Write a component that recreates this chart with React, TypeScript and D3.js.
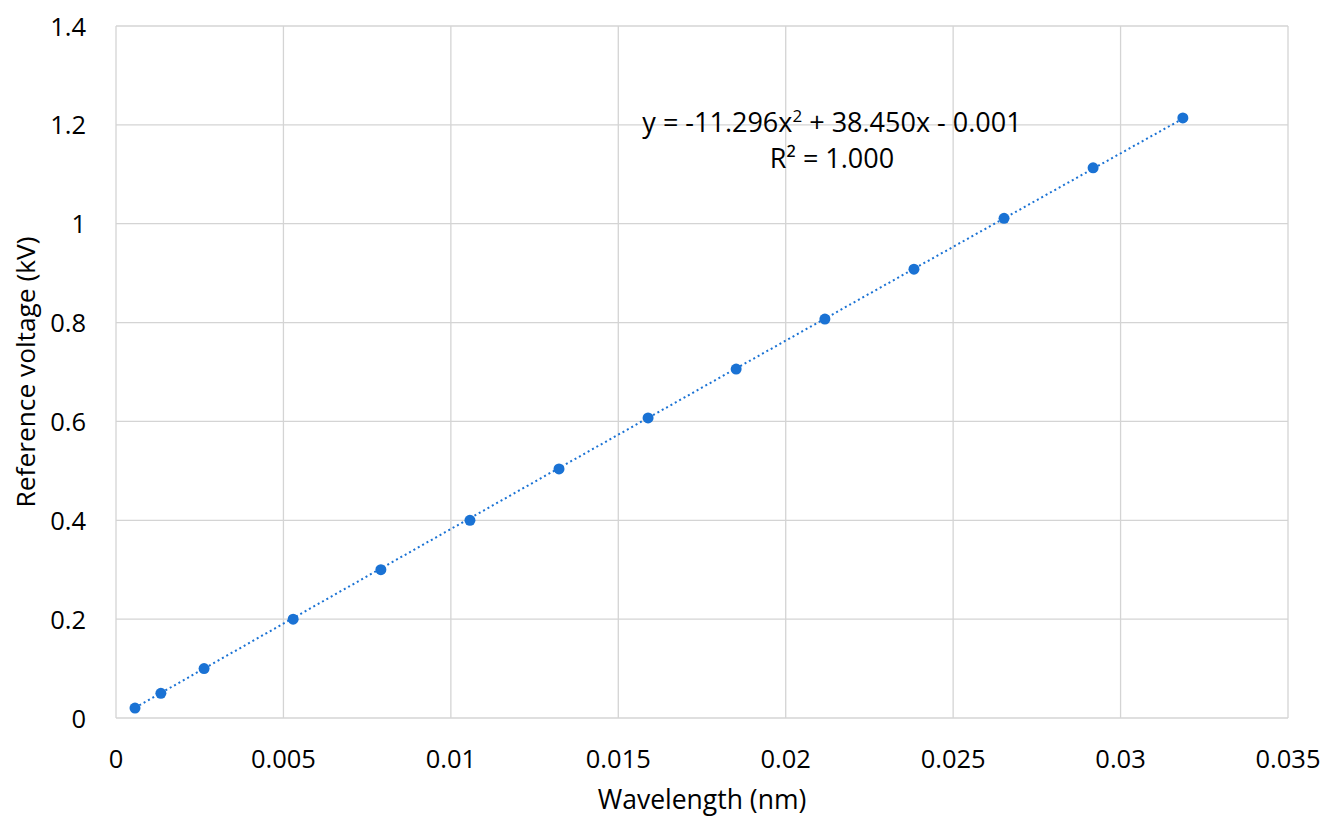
import React from "react";
import * as d3 from "d3";

// measured points (wavelength nm, voltage kV)
const wavelength = [
  0.000567, 0.00134, 0.00263, 0.00529, 0.00791, 0.01057, 0.01323, 0.01589,
  0.01852, 0.02117, 0.02383, 0.02652, 0.02918, 0.03186,
];
const voltage = [
  0.02, 0.05, 0.1, 0.2, 0.3, 0.4, 0.504, 0.607, 0.706, 0.807, 0.908, 1.011,
  1.113, 1.214,
];
const xTicks = [0, 0.005, 0.01, 0.015, 0.02, 0.025, 0.03, 0.035];
const yTicks = [0, 0.2, 0.4, 0.6, 0.8, 1, 1.2, 1.4];
// trendline coefficients as printed on the chart
const fit = { a: -11.296, b: 38.45, c: -0.001 };

const width = 1322;
const height = 822;
const margin = { top: 18, right: 42, bottom: 112, left: 108 };
const font = "'Open Sans', 'Noto Sans', sans-serif";
const blue = "#1a72d4";
const grid = "#d4d4d4";

const App: React.FC = () => {
  const x = d3
    .scaleLinear()
    .domain([0, 0.035])
    .range([margin.left, width - margin.right]);
  const y = d3
    .scaleLinear()
    .domain([0, 1.4])
    .range([height - margin.bottom, margin.top]);

  const points = wavelength.map((w, i) => [w, voltage[i]] as [number, number]);

  const x0 = wavelength[0];
  const x1 = wavelength[wavelength.length - 1];
  const trendX = d3.range(0, 41).map((i) => x0 + ((x1 - x0) * i) / 40);
  const trend = d3
    .line<number>()
    .x((d) => x(d))
    .y((d) => y(fit.a * d * d + fit.b * d + fit.c));

  const fmt = (v: number) => String(+v.toFixed(3));

  return (
    <svg width={width} height={height} style={{ display: "block" }} fontFamily={font}>
      <rect width={width} height={height} fill="#fff" />
      {xTicks.map((t) => (
        <line key={"gx" + t} x1={x(t)} x2={x(t)} y1={y(0)} y2={y(1.4)} stroke={grid} strokeWidth={1.3} />
      ))}
      {yTicks.map((t) => (
        <line key={"gy" + t} x1={x(0)} x2={x(0.035)} y1={y(t)} y2={y(t)} stroke={grid} strokeWidth={1.3} />
      ))}
      {xTicks.map((t) => (
        <text key={"tx" + t} x={x(t)} y={y(0) + 50} textAnchor="middle" fontSize={25.5} fill="#000">
          {fmt(t)}
        </text>
      ))}
      {yTicks.map((t) => (
        <text key={"ty" + t} x={x(0) - 30} y={y(t) + 9.5} textAnchor="end" fontSize={25.5} fill="#000">
          {fmt(t)}
        </text>
      ))}
      <path d={trend(trendX) || ""} fill="none" stroke={blue} strokeWidth={2} strokeDasharray="2 3" />
      {points.map((p, i) => (
        <circle key={i} cx={x(p[0])} cy={y(p[1])} r={5.5} fill={blue} />
      ))}
      <text x={824} y={124} textAnchor="middle" fontSize={27} fill="#000">
        y = -11.296x<tspan dy={-10} fontSize={17}>2</tspan>
        <tspan dy={10}> + 38.450x - 0.001</tspan>
      </text>
      <text x={824} y={160} textAnchor="middle" fontSize={27} fill="#000">
        R² = 1.000
      </text>
      <text x={(x(0) + x(0.035)) / 2} y={y(0) + 91} textAnchor="middle" fontSize={26.5} fill="#000">
        Wavelength (nm)
      </text>
      <text
        transform={`translate(27,${(y(0) + y(1.4)) / 2}) rotate(-90)`}
        textAnchor="middle"
        fontSize={26.3}
        fill="#000"
      >
        Reference voltage (kV)
      </text>
    </svg>
  );
};

export default App;
